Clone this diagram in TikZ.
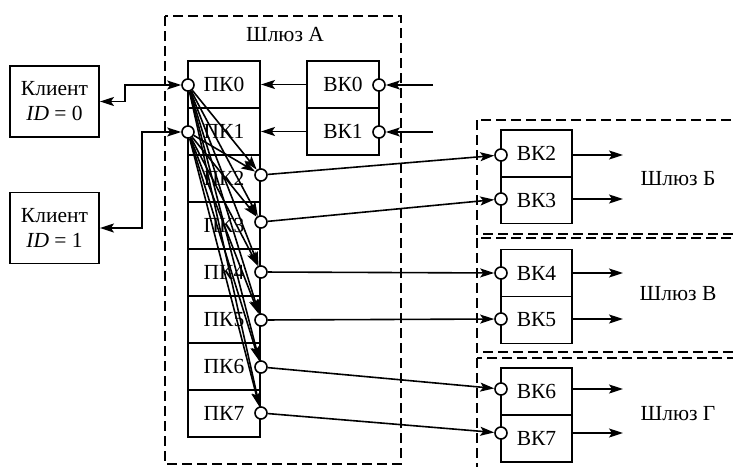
\documentclass[tikz,border=0pt]{standalone}
\usepackage{fontspec}
\setmainfont{Liberation Serif}
\usetikzlibrary{arrows.meta}
\begin{document}
\begin{tikzpicture}[x=1pt,y=-1pt,
  txt/.style={font=\fontsize{21.5}{24}\selectfont, inner sep=0},
  cell/.style={draw, line width=1.9pt, minimum width=72pt, minimum height=47pt, inner sep=0, font=\fontsize{21.5}{24}\selectfont},
  client/.style={draw, line width=1.9pt, minimum width=89pt, minimum height=71pt, inner sep=0, align=center, font=\fontsize{21.5}{25}\selectfont},
  port/.style={circle, draw, fill=white, line width=1.6pt, minimum size=12pt, inner sep=0},
  link/.style={line width=1.6pt, -{Stealth[length=14pt,width=9pt,inset=3pt]}},
  blink/.style={line width=1.6pt, {Stealth[length=14pt,width=9pt,inset=3pt]}-{Stealth[length=14pt,width=9pt,inset=3pt]}},
  gw/.style={draw, dash pattern=on 10pt off 5pt, line width=1.9pt}]
\path[use as bounding box, clip] (0,0) rectangle (733,466);
\fill[white] (0,0) rectangle (733,466);

% gateways
\draw[gw] (165,16) rectangle (401,464);
\draw[gw] (477,120) rectangle (745,234);
\draw[gw] (477,238) rectangle (745,352);
\draw[gw] (477,358) rectangle (745,490);
\node[txt] (gA) at (285,35) {Шлюз А};
\node[txt] (gB) at (678,178.5) {Шлюз Б};
\node[txt] (gV) at (678,293.5) {Шлюз В};
\node[txt] (gG) at (678,414) {Шлюз Г};

% clients
\node[client] (c0) at (54.5,101.5) {Клиент\\{\itshape ID} = 0};
\node[client] (c1) at (54.5,228) {Клиент\\{\itshape ID} = 1};

% PK cells
\foreach \k/\y in {0/84.5,1/131.5,2/178.5,3/225.5,4/272.5,5/319.5,6/366.5,7/413.5}
  \node[cell] (pk\k) at (224,\y) {ПК\k};
% VK cells of gateway A
\node[cell] (vk0) at (343,84.5) {ВК0};
\node[cell] (vk1) at (343,131.5) {ВК1};
% VK cells on the right
\foreach \k/\y in {2/153.5,3/200,4/273,5/320,6/391.5,7/438.5}
  \node[cell, minimum width=71pt] (vk\k) at (536.5,\y) {ВК\k};

% ports
\node[port] (pc0) at (188,85) {};
\node[port] (pc1) at (188,132) {};
\foreach \k/\y in {2/175,3/222,4/272,5/320,6/367,7/413}
  \node[port] (pc\k) at (261,\y) {};
\node[port] (vc0) at (379,85) {};
\node[port] (vc1) at (379,132) {};
\foreach \k/\y in {2/155,3/199,4/273,5/319,6/389,7/433}
  \node[port] (vc\k) at (501,\y) {};

% inputs to gateway A
\coordinate (in0) at (433,85);
\coordinate (in1) at (433,132);
\draw[link] (in0) -- (vc0);
\draw[link] (in1) -- (vc1);
\draw[link] (vk0.west) -- (pk0.east);
\draw[link] (vk1.west) -- (pk1.east);

% clients
\draw[blink] (c0.east) -- (125,101.5) |- (pc0);
\draw[blink] (c1.east) -- (142,228) |- (pc1);

% fan-out
\foreach \s in {pc0,pc1}
  \foreach \k in {2,...,7}
    \draw[link] (\s) -- (pc\k);

% to other gateways
\foreach \k in {2,...,7}
  \draw[link] (pc\k) -- (vc\k);

% outputs
\foreach \k/\y in {2/155,3/199,4/273,5/319,6/389,7/433} {
  \coordinate (out\k) at (623,\y);
  \draw[link] (vk\k.east |- vc\k) -- (out\k);
}
\end{tikzpicture}
\end{document}
